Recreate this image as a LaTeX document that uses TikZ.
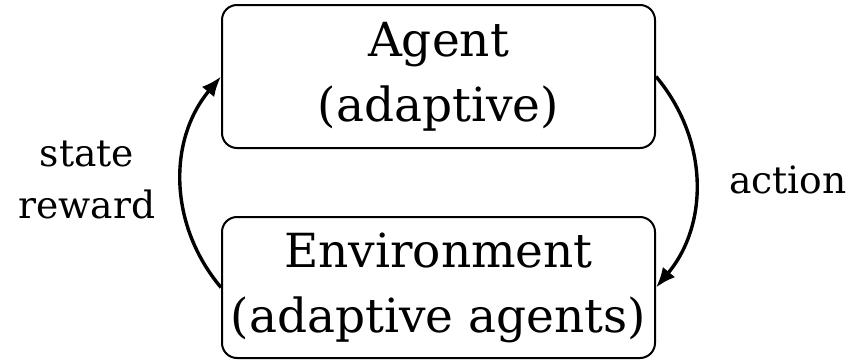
\documentclass[tikz,border=0pt]{standalone}
\usepackage{fontspec}
\setmainfont{DejaVu Serif}
\usetikzlibrary{arrows.meta,positioning}
\tikzset{
  box/.style={draw, rounded corners=7.5pt, line width=1pt, minimum width=216.5pt,
    align=center, inner sep=0pt, font=\fontsize{23.5}{32.5}\selectfont},
  loopline/.style={line width=1.7pt, -{Latex[length=10pt,width=8pt]}},
  lbl/.style={align=center, font=\fontsize{18.8}{26}\selectfont}
}
\begin{document}
\begin{tikzpicture}[x=0.5pt,y=0.5pt]
\useasboundingbox (0,0) rectangle (867,360);
\node[box, minimum height=71.5pt] (agent) at (438.5,283.5) {Agent\\(adaptive)};
\node[box, minimum height=70.5pt] (env) at (438.5,72.5) {Environment\\(adaptive agents)};
\draw[loopline] (env.west) to[bend left=40] (agent.west);
\draw[loopline] (agent.east) to[bend left=40] (env.east);
\node[lbl] (sr) at (87,180) {state\\reward};
\node[lbl] (act) at (788,180) {action};
\end{tikzpicture}
\end{document}
